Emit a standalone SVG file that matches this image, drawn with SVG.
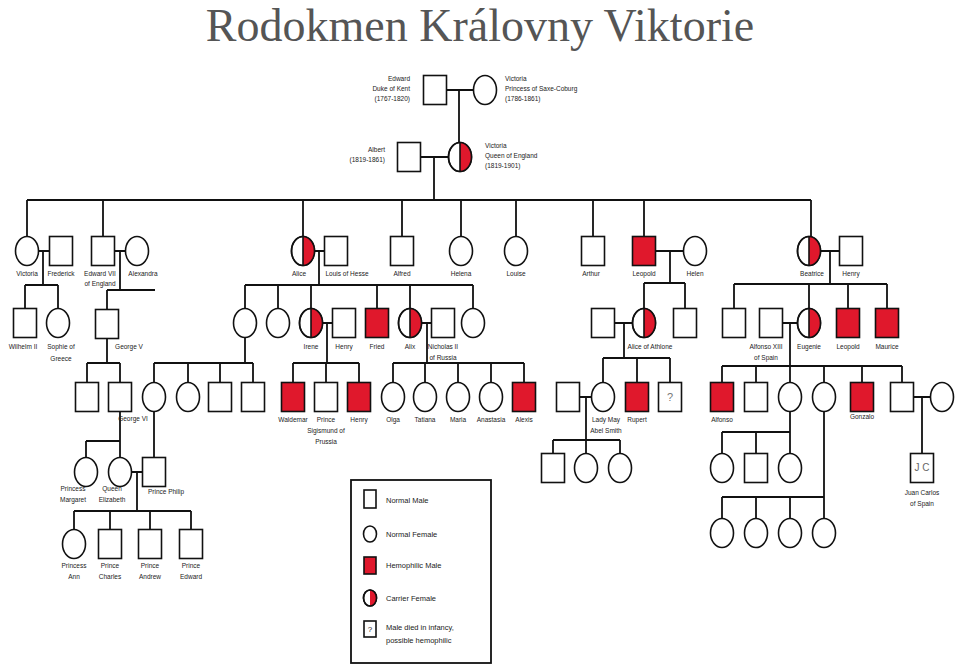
<svg xmlns="http://www.w3.org/2000/svg" xmlns:xlink="http://www.w3.org/1999/xlink" width="959" height="671" viewBox="0 0 959 671">
<style>
.s{fill:#fff;stroke:#111;stroke-width:1.6}
.h{fill:#e0182c;stroke:#111;stroke-width:1.6}
.r{fill:#e0182c}
.o{fill:none;stroke:#111;stroke-width:1.6}
.c{fill:none;stroke:#111;stroke-width:1.8}
text{font-family:"Liberation Sans",Arial,sans-serif;font-size:6.5px;fill:#222;text-anchor:middle}
.l{text-anchor:start}.e{text-anchor:end}
.t{font-family:"Liberation Serif","Times New Roman",serif;font-size:46px;fill:#555}
.lg{font-size:7.5px;text-anchor:start}
</style>
<defs>
<rect id="sq" class="s" x="-11.5" y="-14.5" width="23" height="29"/>
<rect id="hq" class="h" x="-11.5" y="-14.5" width="23" height="29"/>
<ellipse id="ci" class="s" rx="11.5" ry="14.5"/>
<g id="ca"><ellipse class="s" rx="11.5" ry="14.5"/><path class="r" d="M0,-14.5A11.5,14.5 0 0 1 0,14.5Z"/><ellipse class="o" rx="11.5" ry="14.5"/><line class="o" x1="0" y1="-14.5" x2="0" y2="14.5"/></g>
</defs>
<rect width="959" height="671" fill="#fff"/>
<text class="t" x="480" y="41">Rodokmen Královny Viktorie</text>
<g id="connectors" class="c">
<path d="M447,90H473M459,90V142.5M420,157H448.5M434,157V200M27,200H811M27,200V236.5M103,200V236.5M303,200V236.5M402,200V236.5M461,200V236.5M516,200V236.5M593,200V236.5M644,200V236.5M811,200V236.5
M38.5,251H49.5M43,251V285M25,285H58M25,285V308.5M58,285V308.5
M114.5,251H125.5M120,251V290M107,290H155M107,290V309.5
M107,338.5V363M87,363H120M87,363V382.5M120,363V382.5
M245,337.5V363M154,363H253M154,363V382.5M188,363V382.5M220,363V382.5M253,363V382.5
M314.5,251H324.5M319,251V285M245,285H473M245,285V308.5M278,285V308.5M311,285V308.5M377,285V308.5M410,285V308.5M473,285V308.5
M322.5,323H332.5M327,323V363M293,363H359M293,363V382.5M326,363V382.5M359,363V382.5
M421.5,323H431.5M427,323V363M393,363H524M393,363V382.5M425,363V382.5M458,363V382.5M491,363V382.5M524,363V382.5
M120,411.5V441M86,441H120M86,441V457.5M120,441V457.5M154,411.5V457.5
M130.5,472H142.5M137,472V511M74,511H191M74,511V529.5M110,511V529.5M150,511V529.5M191,511V529.5
M655.5,251H683.5M670,251V283M644,283H685M644,283V308.5M685,283V308.5
M614.5,323H632.5M624,323V358M603,358H670M603,358V382.5M637,358V382.5M670,358V382.5
M579.5,397H591.5M586,397V440M553,440H620M553,440V453.5M586,440V453.5M620,440V453.5
M820.5,251H840.5M830,251V284M734,284H887M734,284V308.5M809,284V308.5M848,284V308.5M887,284V308.5
M782.5,323H797.5M790,323V366M722,366H902M722,366V382.5M756,366V382.5M790,366V382.5M824,366V382.5M862,366V382.5M902,366V382.5
M913.5,397H930.5M922,397V453.5
M790,411.5V453.5M722,432H790M722,432V453.5M756,432V453.5
M824,411.5V518.5M722,497H824M722,497V518.5M756,497V518.5M790,497V518.5"/>
</g>
<!-- generation 1 -->
<g id="edward" transform="translate(435,90)"><use href="#sq"/><text class="e" x="-25" y="-9">Edward</text><text class="e" x="-25" y="1">Duke of Kent</text><text class="e" x="-25" y="11">(1767-1820)</text></g>
<g id="victoria-sc" transform="translate(485,90)"><use href="#ci"/><text class="l" x="20" y="-9">Victoria</text><text class="l" x="20" y="1">Princess of Saxe-Coburg</text><text class="l" x="20" y="11">(1786-1861)</text></g>
<!-- generation 2 -->
<g id="albert" transform="translate(409,157)"><use href="#sq"/><text class="e" x="-24" y="-5">Albert</text><text class="e" x="-24" y="5">(1819-1861)</text></g>
<g id="queen-victoria" transform="translate(460,157)"><use href="#ca"/><text class="l" x="25" y="-9">Victoria</text><text class="l" x="25" y="1">Queen of England</text><text class="l" x="25" y="11">(1819-1901)</text></g>
<!-- generation 3 -->
<g id="victoria" transform="translate(27,251)"><use href="#ci"/><text y="25">Victoria</text></g>
<g id="frederick" transform="translate(61,251)"><use href="#sq"/><text y="25">Frederick</text></g>
<g id="edward7" transform="translate(103,251)"><use href="#sq"/><text x="-3" y="25">Edward VII</text><text x="-3" y="35">of England</text></g>
<g id="alexandra" transform="translate(137,251)"><use href="#ci"/><text x="6" y="25">Alexandra</text></g>
<g id="alice" transform="translate(303,251)"><use href="#ca"/><text x="-4" y="25">Alice</text></g>
<g id="louis" transform="translate(336,251)"><use href="#sq"/><text x="11" y="25">Louis of Hesse</text></g>
<g id="alfred" transform="translate(402,251)"><use href="#sq"/><text y="25">Alfred</text></g>
<g id="helena" transform="translate(461,251)"><use href="#ci"/><text y="25">Helena</text></g>
<g id="louise" transform="translate(516,251)"><use href="#ci"/><text y="25">Louise</text></g>
<g id="arthur" transform="translate(593,251)"><use href="#sq"/><text x="-2" y="25">Arthur</text></g>
<g id="leopold" transform="translate(644,251)"><use href="#hq"/><text y="25">Leopold</text></g>
<g id="helen" transform="translate(695,251)"><use href="#ci"/><text y="25">Helen</text></g>
<g id="beatrice" transform="translate(809,251)"><use href="#ca"/><text x="3" y="25">Beatrice</text></g>
<g id="henry-b" transform="translate(851,251)"><use href="#sq"/><text y="25">Henry</text></g>
<!-- generation 4 -->
<g id="wilhelm" transform="translate(25,323)"><use href="#sq"/><text x="-2" y="26">Wilhelm II</text></g>
<g id="sophie" transform="translate(58,323)"><use href="#ci"/><text x="3" y="26">Sophie of</text><text x="3" y="38">Greece</text></g>
<g id="george5" transform="translate(107,324)"><use href="#sq"/><text x="22" y="25">George V</text></g>
<g id="hesse-girl1" transform="translate(245,323)"><use href="#ci"/></g>
<g id="hesse-girl2" transform="translate(278,323)"><use href="#ci"/></g>
<g id="irene" transform="translate(311,323)"><use href="#ca"/><text y="26">Irene</text></g>
<g id="henry-i" transform="translate(344,323)"><use href="#sq"/><text y="26">Henry</text></g>
<g id="fried" transform="translate(377,323)"><use href="#hq"/><text y="26">Fried</text></g>
<g id="alix" transform="translate(410,323)"><use href="#ca"/><text y="26">Alix</text></g>
<g id="nicholas" transform="translate(443,323)"><use href="#sq"/><text y="26">Nicholas II</text><text y="37">of Russia</text></g>
<g id="hesse-girl3" transform="translate(473,323)"><use href="#ci"/></g>
<g id="athlone-husband" transform="translate(603,323)"><use href="#sq"/></g>
<g id="alice-athlone" transform="translate(644,323)"><use href="#ca"/><text x="6" y="26">Alice of Athlone</text></g>
<g id="leopold-son" transform="translate(685,323)"><use href="#sq"/></g>
<g id="beatrice-son" transform="translate(734,323)"><use href="#sq"/></g>
<g id="alfonso13" transform="translate(771,323)"><use href="#sq"/><text x="-5" y="26">Alfonso XIII</text><text x="-5" y="37">of Spain</text></g>
<g id="eugenie" transform="translate(809,323)"><use href="#ca"/><text y="26">Eugenie</text></g>
<g id="leopold-b" transform="translate(848,323)"><use href="#hq"/><text y="26">Leopold</text></g>
<g id="maurice" transform="translate(887,323)"><use href="#hq"/><text y="26">Maurice</text></g>
<!-- generation 5 -->
<g id="g5-1" transform="translate(87,397)"><use href="#sq"/></g>
<g id="george6" transform="translate(120,397)"><use href="#sq"/><text x="13" y="24">George VI</text></g>
<g id="g5-3" transform="translate(154,397)"><use href="#ci"/></g>
<g id="g5-4" transform="translate(188,397)"><use href="#ci"/></g>
<g id="g5-5" transform="translate(220,397)"><use href="#sq"/></g>
<g id="g5-6" transform="translate(253,397)"><use href="#sq"/></g>
<g id="waldemar" transform="translate(293,397)"><use href="#hq"/><text y="25">Waldemar</text></g>
<g id="sigismund" transform="translate(326,397)"><use href="#sq"/><text y="25">Prince</text><text y="36">Sigismund of</text><text y="47">Prussia</text></g>
<g id="henry-h" transform="translate(359,397)"><use href="#hq"/><text y="25">Henry</text></g>
<g id="olga" transform="translate(393,397)"><use href="#ci"/><text y="25">Olga</text></g>
<g id="tatiana" transform="translate(425,397)"><use href="#ci"/><text y="25">Tatiana</text></g>
<g id="maria" transform="translate(458,397)"><use href="#ci"/><text y="25">Maria</text></g>
<g id="anastasia" transform="translate(491,397)"><use href="#ci"/><text y="25">Anastasia</text></g>
<g id="alexis" transform="translate(524,397)"><use href="#hq"/><text y="25">Alexis</text></g>
<g id="may-husband" transform="translate(568,397)"><use href="#sq"/></g>
<g id="lady-may" transform="translate(603,397)"><use href="#ci"/><text x="3" y="25">Lady May</text><text x="3" y="36">Abel Smith</text></g>
<g id="rupert" transform="translate(637,397)"><use href="#hq"/><text y="25">Rupert</text></g>
<g id="unknown" transform="translate(670,397)"><use href="#sq"/><text y="4" style="font-size:11px;fill:#777">?</text></g>
<g id="alfonso" transform="translate(722,397)"><use href="#hq"/><text y="25">Alfonso</text></g>
<g id="g5-sp2" transform="translate(756,397)"><use href="#sq"/></g>
<g id="g5-sp3" transform="translate(790,397)"><use href="#ci"/></g>
<g id="g5-sp4" transform="translate(824,397)"><use href="#ci"/></g>
<g id="gonzalo" transform="translate(862,397)"><use href="#hq"/><text y="22">Gonzalo</text></g>
<g id="juan" transform="translate(902,397)"><use href="#sq"/></g>
<g id="juan-wife" transform="translate(942,397)"><use href="#ci"/></g>
<!-- generation 6 -->
<g id="margaret" transform="translate(86,472)"><use href="#ci"/><text x="-13" y="19">Princess</text><text x="-13" y="30">Margaret</text></g>
<g id="elizabeth" transform="translate(120,472)"><use href="#ci"/><text x="-8" y="19">Queen</text><text x="-8" y="30">Elizabeth</text></g>
<g id="philip" transform="translate(154,472)"><use href="#sq"/><text x="12" y="22">Prince Philip</text></g>
<g id="may-c1" transform="translate(553,468)"><use href="#sq"/></g>
<g id="may-c2" transform="translate(586,468)"><use href="#ci"/></g>
<g id="may-c3" transform="translate(620,468)"><use href="#ci"/></g>
<g id="sp-c1" transform="translate(722,468)"><use href="#ci"/></g>
<g id="sp-c2" transform="translate(756,468)"><use href="#sq"/></g>
<g id="sp-c3" transform="translate(790,468)"><use href="#ci"/></g>
<g id="juan-carlos" transform="translate(922,468)"><use href="#sq"/><text y="3" style="font-size:10px;fill:#666">J C</text><text y="27">Juan Carlos</text><text y="38">of Spain</text></g>
<g id="sp-d1" transform="translate(722,533)"><use href="#ci"/></g>
<g id="sp-d2" transform="translate(756,533)"><use href="#ci"/></g>
<g id="sp-d3" transform="translate(790,533)"><use href="#ci"/></g>
<g id="sp-d4" transform="translate(824,533)"><use href="#ci"/></g>
<!-- generation 7 -->
<g id="anne" transform="translate(74,544)"><use href="#ci"/><text y="24">Princess</text><text y="35">Ann</text></g>
<g id="charles" transform="translate(110,544)"><use href="#sq"/><text y="24">Prince</text><text y="35">Charles</text></g>
<g id="andrew" transform="translate(150,544)"><use href="#sq"/><text y="24">Prince</text><text y="35">Andrew</text></g>
<g id="edward-p" transform="translate(191,544)"><use href="#sq"/><text y="24">Prince</text><text y="35">Edward</text></g>
<!-- legend -->
<g id="legend">
<rect x="351" y="480" width="140" height="183" fill="#fff" stroke="#111" stroke-width="1.8"/>
<rect class="s" x="364" y="490" width="12" height="18"/><text class="lg" x="386" y="503">Normal Male</text>
<ellipse class="s" cx="370" cy="534" rx="6.5" ry="8"/><text class="lg" x="386" y="537">Normal Female</text>
<rect class="h" x="364" y="557" width="12" height="17"/><text class="lg" x="386" y="568">Hemophilic Male</text>
<g transform="translate(370,598)"><ellipse class="s" rx="6.5" ry="8"/><path class="r" d="M0,-8A6.5,8 0 0 1 0,8Z"/><ellipse class="o" rx="6.5" ry="8"/></g><text class="lg" x="386" y="601">Carrier Female</text>
<rect class="s" x="364" y="621" width="12" height="16"/><text x="370" y="632" style="font-size:8px">?</text><text class="lg" x="386" y="630">Male died in infancy,</text><text class="lg" x="386" y="643">possible hemophilic</text>
</g>
</svg>
